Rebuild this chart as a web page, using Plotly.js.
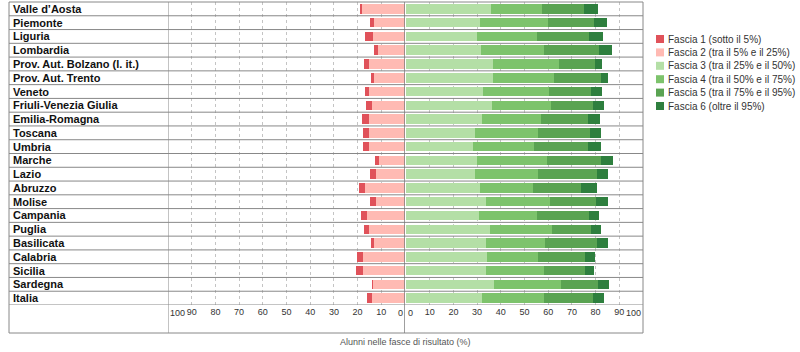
<!DOCTYPE html>
<html><head><meta charset="utf-8">
<script src="https://cdn.plot.ly/plotly-3.0.1.min.js"></script>
<style>html,body{margin:0;padding:0;background:#fff;}#chart{width:800px;height:352px;}</style>
</head><body><div id="chart"></div>
<script>
const regions = ["Valle d\u2019Aosta","Piemonte","Liguria","Lombardia","Prov. Aut. Bolzano (l. it.)","Prov. Aut. Trento","Veneto","Friuli-Venezia Giulia","Emilia-Romagna","Toscana","Umbria","Marche","Lazio","Abruzzo","Molise","Campania","Puglia","Basilicata","Calabria","Sicilia","Sardegna","Italia"];
const fascia1 = [0.8,1.8,3.2,1.8,2.1,1.3,1.8,2.3,2.8,2.3,2.7,1.6,2.4,2.5,2.5,2.4,2.4,1.4,2.7,3.1,0.8,2.1];
const fascia2 = [18.2,13.1,13.7,11.2,15.1,13.1,15.1,14.0,15.3,15.4,15.0,10.9,12.3,16.9,12.4,16.0,15.0,13.0,17.7,17.7,13.3,14.1];
const fascia3 = [36.0,31.4,30.1,31.6,36.9,36.9,32.6,36.4,31.9,29.2,28.4,30.1,29.0,31.1,33.9,30.9,35.5,33.6,34.3,33.6,37.0,31.9];
const fascia4 = [21.5,28.6,25.3,26.7,27.5,25.5,27.9,24.6,25.0,26.7,25.8,29.5,26.5,22.4,27.0,24.3,25.9,25.0,21.2,24.6,28.5,26.2];
const fascia5 = [17.4,19.4,21.9,23.2,15.3,19.7,17.7,17.7,20.1,21.6,22.5,22.5,25.0,20.5,19.2,22.2,16.8,21.8,20.1,17.5,15.4,20.6];
const fascia6 = [5.9,5.5,5.9,5.4,2.9,3.2,4.7,4.9,4.8,4.7,5.5,5.3,4.8,6.4,5.1,4.0,4.1,4.9,4.2,3.5,4.7,4.8];
const seriesNames = ["Fascia 1 (sotto il 5%)","Fascia 2 (tra il 5% e il 25%)","Fascia 3 (tra il 25% e il 50%)","Fascia 4 (tra il 50% e il 75%)","Fascia 5 (tra il 75% e il 95%)","Fascia 6 (oltre il 95%)"];
const seriesColors = ["#e0525a","#ffbab3","#b4dfa6","#7dc36c","#5aa352","#2e7f3e"];
const innerTicks = [10,20,30,40,50,60,70,80,90];
const axisTitle = "Alunni nelle fasce di risultato (%)";

const W=800,H=352,mL=9,mR=157,mT=2,mB=47;
const pw=W-mL-mR, ph=H-mT-mB;
const px = x => (x-mL)/pw;
const py = y => (H-mB-y)/ph;
const FONT = "Liberation Sans, Arial, sans-serif";

function barTrace(vals, idx, xa){
  return {type:'bar', orientation:'h', y:regions, x:vals, name:seriesNames[idx],
    xaxis:xa, yaxis:'y', marker:{color:seriesColors[idx], line:{width:0}},
    showlegend:false, hoverinfo:'x+name'};
}
const traces = [
  barTrace(fascia2,1,'x'), barTrace(fascia1,0,'x'),
  barTrace(fascia3,2,'x2'), barTrace(fascia4,3,'x2'), barTrace(fascia5,4,'x2'), barTrace(fascia6,5,'x2')
];

const bottomY = py(333);
const shapes = [];
regions.forEach((r,i)=>{
  shapes.push({type:'line', xref:'paper', yref:'y', x0:0, x1:1, y0:i+0.5, y1:i+0.5, line:{color:'#888', width:1}});
});
shapes.push({type:'rect', xref:'paper', yref:'paper', x0:0, x1:1, y0:bottomY, y1:1, line:{color:'#888', width:1}});
shapes.push({type:'line', xref:'x', yref:'paper', x0:100, x1:100, y0:bottomY, y1:1, line:{color:'#888', width:1}});
shapes.push({type:'line', xref:'x', yref:'paper', x0:0, x1:0, y0:bottomY, y1:1, line:{color:'#777', width:1.4}});

const annotations = [];
regions.forEach(r=>{
  annotations.push({xref:'paper', yref:'y', x:px(11), y:r, text:r, showarrow:false, xanchor:'left', yanchor:'middle',
    font:{family:FONT, size:11, color:'#111', weight:'bold'}});
});
// end tick labels
const tf = {family:FONT, size:9, color:'#333'};
const ys = -1;
annotations.push({xref:'x', yref:'paper', x:0, y:0, yshift:ys, text:'0', showarrow:false, xanchor:'right', yanchor:'top', font:tf});
annotations.push({xref:'x', yref:'paper', x:100, y:0, yshift:ys, text:'100', showarrow:false, xanchor:'left', yanchor:'top', font:tf});
annotations.push({xref:'x2', yref:'paper', x:0, y:0, yshift:ys, text:'0', showarrow:false, xanchor:'left', yanchor:'top', font:tf});
annotations.push({xref:'x2', yref:'paper', x:100, y:0, yshift:ys, text:'100', showarrow:false, xanchor:'right', yanchor:'top', font:tf});
annotations.push({xref:'paper', yref:'paper', x:px(405), y:py(342), text:axisTitle, showarrow:false, xanchor:'center', yanchor:'middle',
  font:{family:FONT, size:9, color:'#555'}});
// legend
seriesNames.forEach((n,i)=>{
  const cy = 39 + i*13.4;
  shapes.push({type:'rect', xref:'paper', yref:'paper', x0:px(656), x1:px(664), y0:py(cy+4), y1:py(cy-4), fillcolor:seriesColors[i], line:{width:0}});
  annotations.push({xref:'paper', yref:'paper', x:px(666), y:py(cy), text:n, showarrow:false, xanchor:'left', yanchor:'middle',
    font:{family:FONT, size:10, color:'#333'}});
});

const xCommon = {showgrid:true, gridcolor:'#c4c4c4', griddash:'dot', gridwidth:1, zeroline:false, showline:false,
  tickvals:innerTicks, ticks:'', tickfont:tf, fixedrange:true, anchor:'y'};
const layout = {
  width:W, height:H, margin:{l:mL, r:mR, t:mT, b:mB}, paper_bgcolor:'#fff', plot_bgcolor:'rgba(0,0,0,0)',
  barmode:'stack', bargap:0.31, showlegend:false, font:{family:FONT},
  xaxis:Object.assign({}, xCommon, {range:[100,0], domain:[px(168), px(405)]}),
  xaxis2:Object.assign({}, xCommon, {range:[0,100], domain:[px(406), px(643)]}),
  yaxis:{type:'category', categoryarray:regions, range:[regions.length-0.5,-0.5], showticklabels:false, showgrid:false,
    zeroline:false, showline:false, ticks:'', domain:[0,1], anchor:'x', fixedrange:true},
  shapes:shapes, annotations:annotations
};
Plotly.newPlot('chart', traces, layout, {displayModeBar:false, staticPlot:true});
</script></body></html>
